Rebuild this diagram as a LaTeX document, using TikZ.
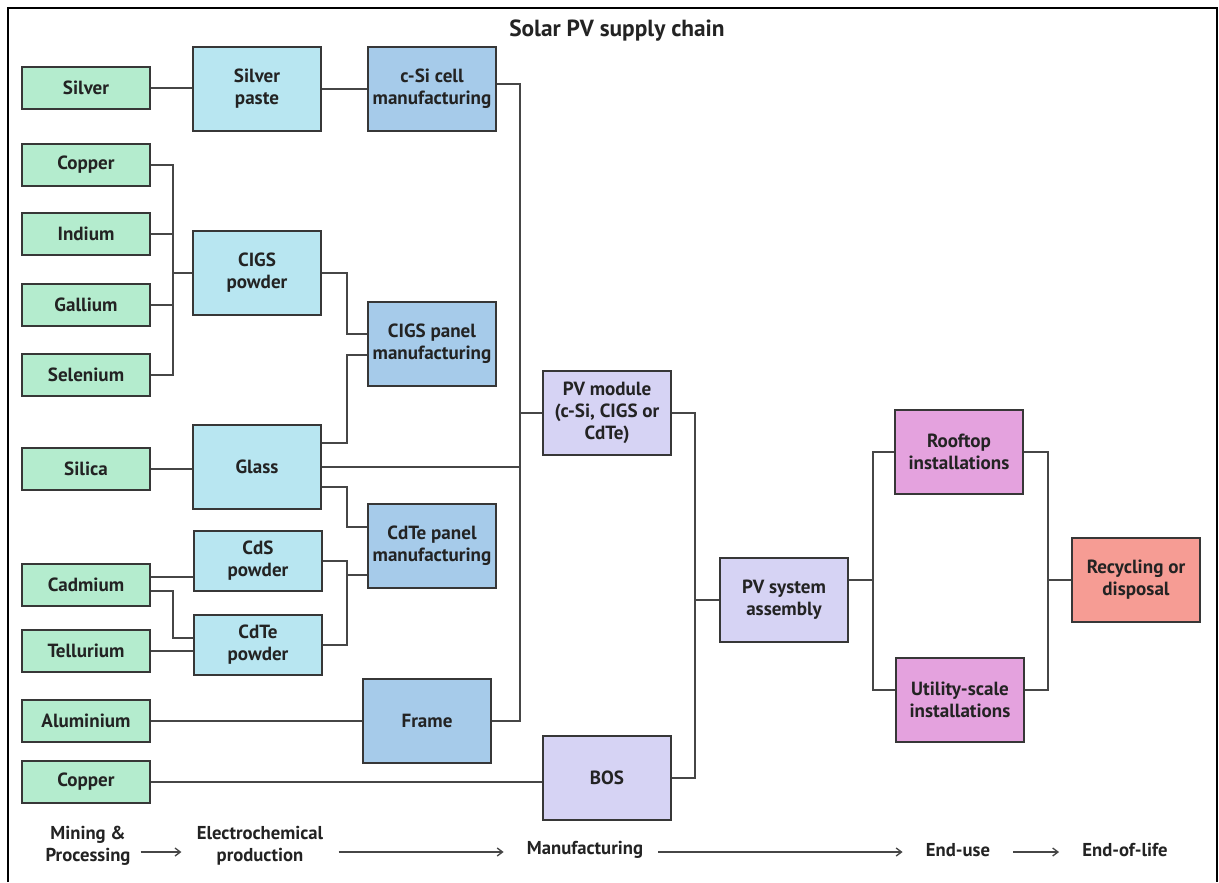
\documentclass[tikz,border=0pt]{standalone}
\usepackage{fontspec}
\setmainfont{PT Sans}
\usetikzlibrary{arrows.meta}
\definecolor{mint}{RGB}{180,236,206}
\definecolor{aqua}{RGB}{184,230,241}
\definecolor{steel}{RGB}{166,203,234}
\definecolor{lilac}{RGB}{214,211,244}
\definecolor{orchid}{RGB}{228,162,222}
\definecolor{salmon}{RGB}{246,156,148}
\definecolor{edge}{RGB}{55,55,55}
\definecolor{wire}{RGB}{70,70,70}
\definecolor{ink}{RGB}{35,35,35}
\tikzset{
  box/.style={draw=edge, line width=1.3pt, minimum width=96pt, align=center,
    inner sep=1pt, text=ink, font=\bfseries\fontsize{14.3}{16.5}\selectfont},
  mine/.style={box, fill=mint, minimum height=32pt},
  chem/.style={box, fill=aqua, minimum height=63pt},
  chemlow/.style={box, fill=aqua, minimum height=45pt},
  manu/.style={box, fill=steel, minimum height=63pt},
  modl/.style={box, fill=lilac, minimum height=63pt},
  enduse/.style={box, fill=orchid, minimum height=63pt},
  endlife/.style={box, fill=salmon, minimum height=63pt},
  link/.style={draw=wire, line width=1.1pt},
  stage/.style={align=center, text=ink, font=\bfseries\fontsize{14}{16.5}\selectfont},
  flow/.style={draw=wire, line width=1pt, -{Straight Barb[length=4pt,width=6pt]}}
}
\begin{document}
\begin{tikzpicture}[x=0.75pt, y=-0.75pt]
  \useasboundingbox (0,0) rectangle (1219,882);
  % 1. frame and title
  \fill[white] (8,8) rectangle (1217,882);
  \draw[line width=2.2pt] (8,882) -- (8,8) -- (1217,8) -- (1217,882);
  \node[stage, font=\bfseries\fontsize{17.5}{20}\selectfont] (title) at (617,31) {Solar PV supply chain};

  % 2. mining & processing
  \node[mine] (silver)    at (86,88)  {Silver};
  \node[mine] (copperA)   at (86,165) {Copper};
  \node[mine] (indium)    at (86,234) {Indium};
  \node[mine] (gallium)   at (86,305) {Gallium};
  \node[mine] (selenium)  at (86,375) {Selenium};
  \node[mine] (silica)    at (86,469) {Silica};
  \node[mine] (cadmium)   at (86,585) {Cadmium};
  \node[mine] (tellurium) at (86,651) {Tellurium};
  \node[mine] (aluminium) at (86,721) {Aluminium};
  \node[mine] (copperB)   at (86,782) {Copper};

  % 3. electrochemical production
  \node[chem]    (silverpaste) at (257,89)  {Silver\\paste};
  \node[chem]    (cigspow)     at (257,273) {CIGS\\powder};
  \node[chem]    (glass)       at (257,467) {Glass};
  \node[chemlow] (cdspow)      at (258,561) {CdS\\powder};
  \node[chemlow] (cdtepow)     at (258,645) {CdTe\\powder};

  % 4. manufacturing
  \node[manu] (csicell)   at (432,89)  {c-Si cell\\manufacturing};
  \node[manu] (cigspanel) at (432,344) {CIGS panel\\manufacturing};
  \node[manu] (cdtepanel) at (432,546) {CdTe panel\\manufacturing};
  \node[manu] (frame)     at (427,721) {Frame};
  \node[modl] (pvmodule)  at (607,413) {PV module\\(c-Si, CIGS or\\CdTe)};
  \node[modl] (bos)       at (607,778) {BOS};
  \node[modl] (pvsystem)  at (784,600) {PV system\\assembly};

  % 5. end-use and end-of-life
  \node[enduse]  (rooftop) at (959,452)  {Rooftop\\installations};
  \node[enduse]  (utility) at (960,700)  {Utility-scale\\installations};
  \node[endlife] (recycle) at (1136,580) {Recycling or\\disposal};

  % 6. bus columns and junctions
  \coordinate (colA) at (173,0);
  \coordinate (colB) at (347,0);
  \coordinate (colD) at (520,0);
  \coordinate (colE) at (695,0);
  \coordinate (colF) at (873,0);
  \coordinate (colG) at (1048,0);
  \coordinate (cigsJ) at (173,273);
  \coordinate (cdteJ) at (347,575);

  % 7. connectors
  \draw[link] (silver.east) -- (silver.east -| silverpaste.west);
  \draw[link] (silverpaste.east) -- (csicell.west);
  \draw[link] (copperA.east) -| (cigsJ) -- (cigspow.west);
  \draw[link] (selenium.east) -| (cigsJ);
  \draw[link] (indium.east) -- (indium.east -| cigsJ);
  \draw[link] (gallium.east) -- (gallium.east -| cigsJ);
  \draw[link] (cigspow.east) -| ([yshift=7.5pt]cigspanel.west -| colB) -- ([yshift=7.5pt]cigspanel.west);
  \draw[link] ([yshift=18pt]glass.east) -| ([yshift=-8.25pt]cigspanel.west -| colB) -- ([yshift=-8.25pt]cigspanel.west);
  \draw[link] (glass.east) -- (glass.east -| colD);
  \draw[link] ([yshift=-15pt]glass.east) -| ([yshift=14.25pt]cdtepanel.west -| colB) -- ([yshift=14.25pt]cdtepanel.west);
  \draw[link] (silica.east) -- (silica.east -| glass.west);
  \draw[link] (cdspow.east) -| (cdteJ) -- (cdteJ -| cdtepanel.west);
  \draw[link] (cdtepow.east) -| (cdteJ);
  \draw[link] ([yshift=6pt]cadmium.east) -- ([yshift=6pt]cadmium.east -| cdspow.west);
  \draw[link] ([yshift=-4.5pt]cadmium.east) -| ([yshift=5.25pt]cdtepow.west -| colA) -- ([yshift=5.25pt]cdtepow.west);
  \draw[link] (tellurium.east) -- (tellurium.east -| cdtepow.west);
  \draw[link] (aluminium.east) -- (frame.west);
  \draw[link] ([yshift=3.75pt]csicell.east) -| (frame.east -| colD) -- (frame.east);
  \draw[link] (pvmodule.west -| colD) -- (pvmodule.west);
  \draw[link] (pvmodule.east) -| (bos.east -| colE) -- (bos.east);
  \draw[link] (pvsystem.west -| colE) -- (pvsystem.west);
  \draw[link] (copperB.east) -- (copperB.east -| bos.west);
  \draw[link] ([yshift=15pt]pvsystem.east) -- ([yshift=15pt]pvsystem.east -| colF);
  \draw[link] (rooftop.west) -| ([yshift=7.5pt]utility.west -| colF) -- ([yshift=7.5pt]utility.west);
  \draw[link] (rooftop.east) -| ([yshift=7.5pt]utility.east -| colG) -- ([yshift=7.5pt]utility.east);
  \draw[link] (recycle.west -| colG) -- (recycle.west);

  % 8. stages along the bottom
  \node[stage] (mining)  at (88,846)   {Mining \&\\Processing};
  \node[stage] (electro) at (260,846)  {Electrochemical\\production};
  \node[stage] (manuf)   at (585,850)  {Manufacturing};
  \node[stage] (enduses) at (958,850)  {End-use};
  \node[stage] (eol)     at (1125,850) {End-of-life};
  \draw[flow, shorten <=4pt, shorten >=8pt] ([yshift=-4.5pt]mining.east) -- ([yshift=-4.5pt]electro.west);
  \draw[flow, shorten <=8pt, shorten >=14pt] ([yshift=-4.5pt]electro.east) -- ([yshift=-1.5pt]manuf.west);
  \draw[flow, shorten <=8pt, shorten >=14pt] ([yshift=-1.5pt]manuf.east) -- ([yshift=-1.5pt]enduses.west);
  \draw[flow, shorten <=14pt, shorten >=14pt] ([yshift=-1.5pt]enduses.east) -- ([yshift=-1.5pt]eol.west);
\end{tikzpicture}
\end{document}
